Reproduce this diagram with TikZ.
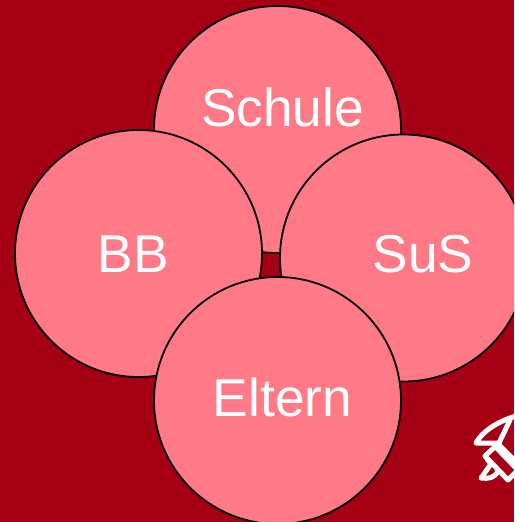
\documentclass[tikz,border=0pt]{standalone}
\usepackage{fontspec}
\setmainfont{Liberation Sans}
\definecolor{bgred}{RGB}{165,0,20}
\definecolor{disc}{RGB}{255,121,135}
\tikzset{
  disc/.style={circle,draw=black,line width=1.8pt,fill=disc,minimum size=247pt,inner sep=0pt},
  lab/.style={text=white,font=\fontsize{53.3}{53.3}\selectfont,inner sep=0pt,anchor=base},
  rocket/.style={draw=white,line width=5pt,line cap=round,line join=round}
}
\begin{document}
\begin{tikzpicture}[x=1pt,y=-1pt]
\path[use as bounding box,fill=bgred] (0,0) rectangle (514,522);
\begin{scope}
\clip (0,0) rectangle (514,522);
\node[disc] (schule) at (277.5,129.5) {};
\node[disc] (bb) at (138.5,253.5) {};
\node[disc] (sus) at (403.5,258) {};
\node[disc] (eltern) at (277.5,400.5) {};
\draw[rocket] (516,416) .. controls (496,422) and (482,432) .. (476,443) -- (499,443) -- (510,420);
\draw[rocket] (499,443) -- (485,456) -- (508,480) -- (518,470);
\draw[rocket] (487,459) -- (491,464) -- (481,478) .. controls (488,479) and (495,478) .. (498,471);
\draw[rocket,fill=white,line width=1pt] (499,442) -- (494,448) -- (514,469) -- (520,463) -- cycle;
\end{scope}
\node[lab] (t1) at (282.5,126) {Schule};
\node[lab] (t2) at (133,272.5) {BB};
\node[lab] (t3) at (423,272.5) {SuS};
\node[lab] (t4) at (282.5,416.5) {Eltern};
\end{tikzpicture}
\end{document}
